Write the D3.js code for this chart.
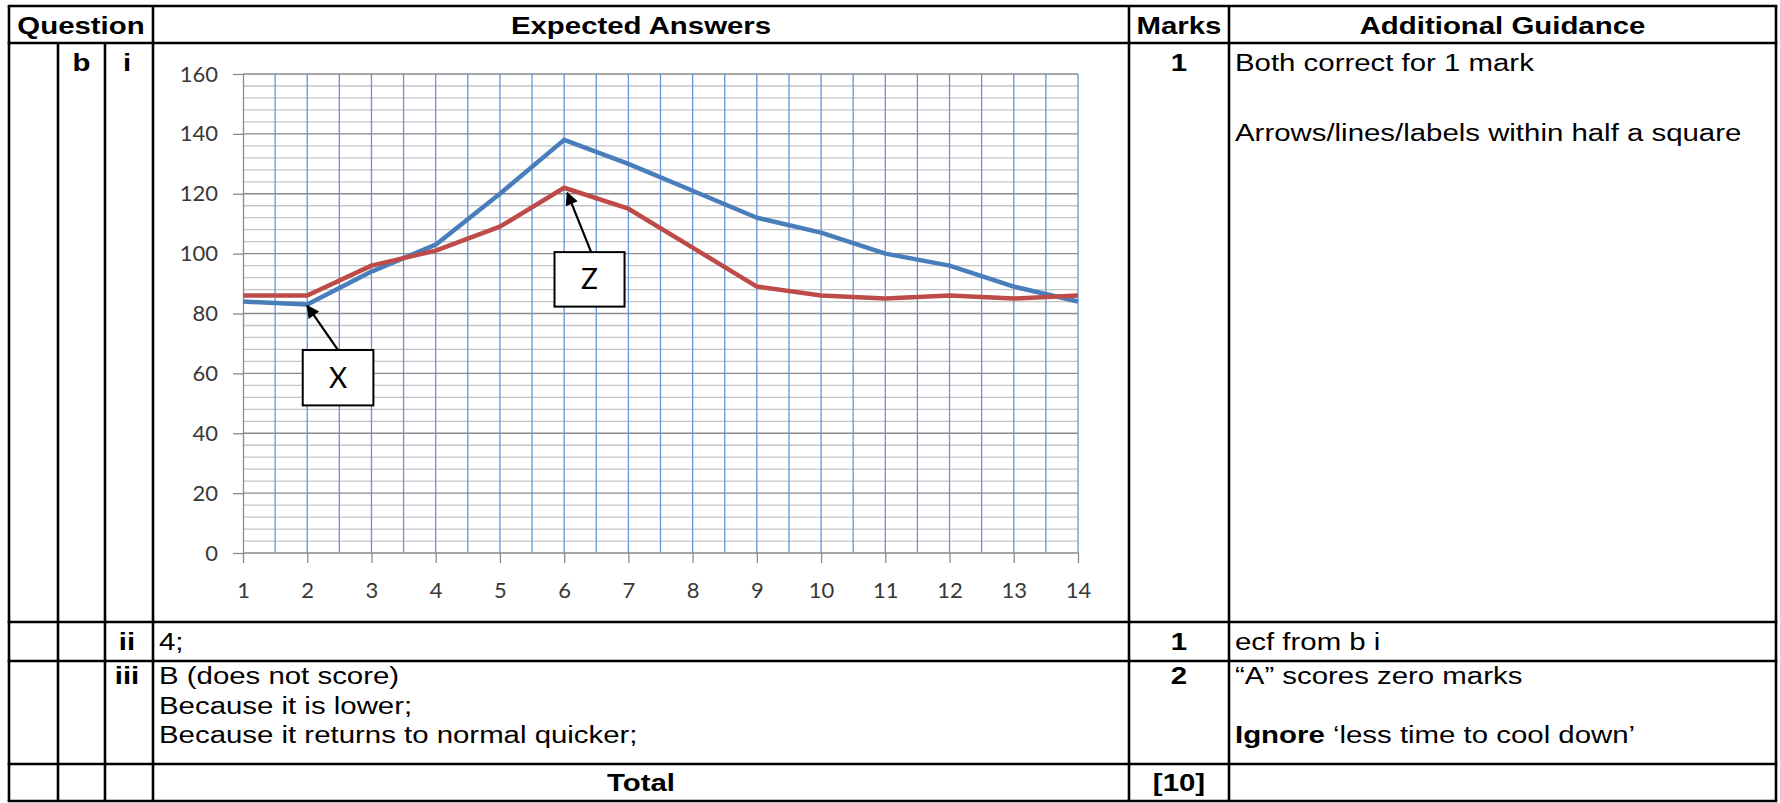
<!DOCTYPE html>
<html>
<head>
<meta charset="utf-8">
<title>Mark scheme - graph answer</title>
<style>
  body { margin: 0; background: #fff; }
  svg { display: block; }
</style>
</head>
<body>
<script src="https://cdn.jsdelivr.net/npm/d3@7"></script>
<script>
// values
var days = [1, 2, 3, 4, 5, 6, 7, 8, 9, 10, 11, 12, 13, 14];
var blueLine = [84, 83, 94, 103, 120, 138, 130, 121, 112, 107, 100, 96, 89, 84];
var redLine = [86, 86, 96, 101, 109, 122, 115, 102, 89, 86, 85, 86, 85, 86];
var yTicks = [0, 20, 40, 60, 80, 100, 120, 140, 160];

// label boxes and their arrows, in data units
var boxLabels = ["X", "Z"];
var boxX = [[1.93, 3.03], [5.85, 6.94]];
var boxY = [[49.3, 67.8], [82.3, 100.5]];
var arrowFrom = [[2.48, 67.8], [6.42, 100.5]];
var arrowTo = [[2.0, 82.6], [6.05, 120.3]];

// table text
var headers = ["Question", "Expected Answers", "Marks", "Additional Guidance"];
var partB = "b";
var subParts = ["i", "ii", "iii"];
var marks = ["1", "1", "2"];
var answersII = ["4;"];
var answersIII = ["B (does not score)", "Because it is lower;", "Because it returns to normal quicker;"];
var guideI = ["Both correct for 1 mark", "Arrows/lines/labels within half a square"];
var guideII = ["ecf from b i"];
var totalLabel = "Total";
var totalMarks = "[10]";

var W = 1780, H = 803;
var svg = d3.select("body").append("svg")
  .attr("width", W)
  .attr("height", H);

// table layout
var colX = [9, 58, 105, 153, 1129, 1229, 1776];
var rowY = [6, 43, 622, 661, 764, 801];
var fontTable = "'Liberation Sans', Arial, sans-serif";
var fs = 24.5, sx = 1.2;

function txt(x, y, s, bold, anchor) {
  return svg.append("text")
    .attr("transform", "translate(" + x + "," + y + ") scale(" + sx + ",1)")
    .attr("font-family", fontTable)
    .attr("font-size", fs)
    .attr("font-weight", bold ? "bold" : "normal")
    .attr("text-anchor", anchor || "start")
    .attr("fill", "#000")
    .text(s);
}

// ---- chart ----
var x = d3.scaleLinear().domain([1, 14]).range([243, 1078]);
var y = d3.scaleLinear().domain([0, 160]).range([553, 74]);

var chart = svg.append("g");

// minor horizontal grid
chart.selectAll(".minor")
  .data(d3.range(0, 161, 4).filter(function (d) { return d % 20 != 0; }))
  .enter().append("line")
  .attr("x1", x(1)).attr("x2", x(14))
  .attr("y1", function (d) { return y(d); })
  .attr("y2", function (d) { return y(d); })
  .style("stroke", "#c4c4c4")
  .style("stroke-width", 1.3);

// major horizontal grid
chart.selectAll(".major")
  .data(yTicks)
  .enter().append("line")
  .attr("x1", x(1)).attr("x2", x(14))
  .attr("y1", function (d) { return y(d); })
  .attr("y2", function (d) { return y(d); })
  .style("stroke", "#8a8a8a")
  .style("stroke-width", 1.3);

// vertical blue grid every half day
chart.selectAll(".vgrid")
  .data(d3.range(1.5, 14.01, 0.5))
  .enter().append("line")
  .attr("x1", function (d) { return x(d); })
  .attr("x2", function (d) { return x(d); })
  .attr("y1", y(160)).attr("y2", y(0))
  .style("stroke", "#6495d8")
  .style("stroke-width", 1.3);

// axes
var yAxis = chart.append("g")
  .attr("transform", "translate(" + x(1) + ",0)")
  .call(d3.axisLeft(y).tickValues(yTicks).tickSize(10).tickSizeOuter(0).tickPadding(15));

var xAxis = chart.append("g")
  .attr("transform", "translate(0," + y(0) + ")")
  .call(d3.axisBottom(x).tickValues(days).tickSize(10).tickSizeOuter(0).tickPadding(19));

[yAxis, xAxis].forEach(function (a) {
  a.select(".domain").style("stroke", "#8a8a8a").style("stroke-width", 1.3);
  a.selectAll(".tick line").style("stroke", "#8a8a8a").style("stroke-width", 1.3);
  a.selectAll(".tick text")
    .style("font-family", "Lato, 'Open Sans', sans-serif")
    .style("font-size", "22px")
    .style("fill", "#383838");
});
xAxis.select(".domain").remove();

// series
var line = d3.line()
  .x(function (d, i) { return x(days[i]); })
  .y(function (d) { return y(d); });

chart.append("path")
  .datum(blueLine)
  .attr("d", line)
  .style("fill", "none")
  .style("stroke", "#4a7ebb")
  .style("stroke-width", 4.5)
  .style("stroke-linejoin", "round");

chart.append("path")
  .datum(redLine)
  .attr("d", line)
  .style("fill", "none")
  .style("stroke", "#be4b48")
  .style("stroke-width", 4.5)
  .style("stroke-linejoin", "round");

// arrow head
svg.append("defs").append("marker")
  .attr("id", "head")
  .attr("viewBox", "0 0 10 10")
  .attr("refX", 9).attr("refY", 5)
  .attr("markerUnits", "userSpaceOnUse")
  .attr("markerWidth", 15).attr("markerHeight", 13)
  .attr("orient", "auto")
  .append("path")
  .attr("d", "M0,0 L10,5 L0,10 z")
  .style("fill", "#000");

boxLabels.forEach(function (lab, i) {
  chart.append("line")
    .attr("x1", x(arrowFrom[i][0])).attr("y1", y(arrowFrom[i][1]))
    .attr("x2", x(arrowTo[i][0])).attr("y2", y(arrowTo[i][1]))
    .style("stroke", "#000")
    .style("stroke-width", 2.2)
    .attr("marker-end", "url(#head)");

  chart.append("rect")
    .attr("x", x(boxX[i][0]))
    .attr("y", y(boxY[i][1]))
    .attr("width", x(boxX[i][1]) - x(boxX[i][0]))
    .attr("height", y(boxY[i][0]) - y(boxY[i][1]))
    .style("fill", "#fff")
    .style("stroke", "#000")
    .style("stroke-width", 2);

  chart.append("text")
    .attr("x", (x(boxX[i][0]) + x(boxX[i][1])) / 2)
    .attr("y", (y(boxY[i][0]) + y(boxY[i][1])) / 2)
    .attr("dy", "0.36em")
    .attr("text-anchor", "middle")
    .style("font-family", "Lato, 'Open Sans', sans-serif")
    .style("font-size", "28px")
    .style("fill", "#000")
    .text(lab);
});

// ---- table lines ----
var grid = svg.append("g").style("stroke", "#000").style("stroke-width", 2.6);
rowY.forEach(function (ry) {
  grid.append("line").attr("x1", colX[0] - 1.3).attr("x2", colX[6] + 1.3).attr("y1", ry).attr("y2", ry);
});
colX.forEach(function (cx, i) {
  var top = (i == 1 || i == 2) ? rowY[1] : rowY[0];
  grid.append("line").attr("x1", cx).attr("x2", cx).attr("y1", top).attr("y2", rowY[5]);
});

// header
var hb = 34;
txt((colX[0] + colX[3]) / 2, hb, headers[0], true, "middle");
txt((colX[3] + colX[4]) / 2, hb, headers[1], true, "middle");
txt((colX[4] + colX[5]) / 2, hb, headers[2], true, "middle");
txt((colX[5] + colX[6]) / 2, hb, headers[3], true, "middle");

var markX = (colX[4] + colX[5]) / 2;
var subX = 127;
var ansX = colX[3] + 6;
var guideX = colX[5] + 6;

// part b i
txt((colX[1] + colX[2]) / 2, 71, partB, true, "middle");
txt(subX, 71, subParts[0], true, "middle");
txt(markX, 71, marks[0], true, "middle");
txt(guideX, 71, guideI[0], false);
txt(guideX, 141, guideI[1], false);

// part ii
txt(subX, 650, subParts[1], true, "middle");
txt(ansX, 650, answersII[0], false);
txt(markX, 650, marks[1], true, "middle");
txt(guideX, 650, guideII[0], false);

// part iii
txt(subX, 684, subParts[2], true, "middle");
answersIII.forEach(function (s, i) { txt(ansX, 684 + i * 29.5, s, false); });
txt(markX, 684, marks[2], true, "middle");
txt(guideX, 684, "\u201CA\u201D scores zero marks", false);
var ign = txt(guideX, 743, "", false);
ign.append("tspan").attr("font-weight", "bold").text("Ignore");
ign.append("tspan").text(" \u2018less time to cool down\u2019");

// total
txt((colX[3] + colX[4]) / 2, 791, totalLabel, true, "middle");
txt(markX, 791, totalMarks, true, "middle");
</script>
</body>
</html>
